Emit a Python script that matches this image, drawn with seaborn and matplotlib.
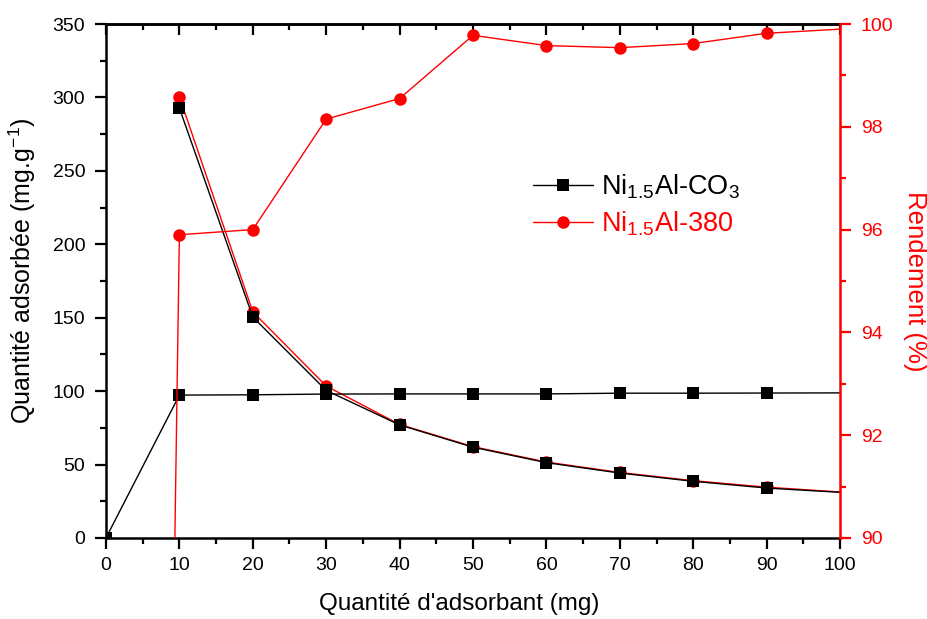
import numpy as np
import pandas as pd
import seaborn as sns
import matplotlib
matplotlib.use("Agg")
import matplotlib.pyplot as plt
from matplotlib.ticker import MultipleLocator
from matplotlib.lines import Line2D

# ---- data ----
x_all = [0, 10, 20, 30, 40, 50, 60, 70, 80, 90, 100]
x_q = [10, 20, 30, 40, 50, 60, 70, 80, 90, 100]
yield_co3 = [0, 97.3, 97.5, 98.0, 98.1, 98.1, 98.1, 98.6, 98.6, 98.7, 98.8]
q_co3 = [292.8, 150.5, 100.5, 77.0, 61.8, 51.3, 44.2, 38.6, 34.0, 31.1]
q_380 = [300.5, 154.0, 103.5, 77.3, 62.2, 51.7, 44.6, 39.0, 34.6, 31.3]
yield_380 = [0, 95.9, 96.0, 98.15, 98.55, 99.78, 99.58, 99.54, 99.62, 99.82, 99.9]
labels = ["Ni$_{1.5}$Al-CO$_3$", "Ni$_{1.5}$Al-380"]

sns.set_style("ticks")
plt.rcParams["font.family"] = ["Liberation Sans", "DejaVu Sans"]
plt.rcParams["mathtext.fontset"] = "custom"
plt.rcParams["mathtext.rm"] = "Liberation Sans"
plt.rcParams["mathtext.it"] = "Liberation Sans"
for k in ["text.color", "axes.labelcolor", "xtick.color", "ytick.color", "axes.edgecolor"]:
    plt.rcParams[k] = "black"

fig = plt.figure(figsize=(9.28, 6.19), dpi=100)
ax = fig.add_axes([0.1142, 0.1309, 0.7910, 0.8303])

RED = "#FF0000"
lw = 1.0

# red adsorbed quantity (left axis), drawn beneath black
sns.lineplot(x=x_q, y=q_380, ax=ax, color=RED, lw=lw, marker="o", markersize=9,
             markeredgewidth=0, markevery=list(range(9)), zorder=2)
# black series (left axis)
sns.lineplot(x=x_q, y=q_co3, ax=ax, color="black", lw=lw, marker="s", markersize=8,
             markeredgewidth=0, markevery=list(range(9)), zorder=3)
sns.lineplot(x=x_all, y=yield_co3, ax=ax, color="black", lw=lw, marker="s", markersize=8,
             markeredgewidth=0, markevery=list(range(10)), zorder=3)

ax.set_xlim(0, 100)
ax.set_ylim(0, 350)
ax.xaxis.set_major_locator(MultipleLocator(10))
ax.xaxis.set_minor_locator(MultipleLocator(5))
ax.yaxis.set_major_locator(MultipleLocator(50))
ax.yaxis.set_minor_locator(MultipleLocator(25))
ax.tick_params(axis="both", which="major", direction="out", length=8, width=1.6,
               labelsize=14, color="black", pad=7)
ax.tick_params(axis="x", which="major", pad=6)
ax.tick_params(axis="both", which="minor", direction="out", length=4, width=1.6)
ax.set_xlabel("Quantité d'adsorbant (mg)", fontsize=17.5)
ax.xaxis.set_label_coords(0.481, -0.108)
ax.set_ylabel("Quantité adsorbée (mg.g$^{-1}$)", fontsize=18)
ax.yaxis.set_label_coords(-0.093, 0.519)
for s in ["left", "bottom", "top"]:
    ax.spines[s].set_visible(True)
    ax.spines[s].set_linewidth(1.8)
    ax.spines[s].set_color("black")

ax2 = ax.twinx()
sns.lineplot(x=x_all, y=yield_380, ax=ax2, color=RED, lw=lw, marker="o", markersize=9,
             markeredgewidth=0, markevery=list(range(1, 10)), zorder=2)
ax2.set_ylim(90, 100)
ax2.yaxis.set_major_locator(MultipleLocator(2))
ax2.yaxis.set_minor_locator(MultipleLocator(1))
ax2.tick_params(axis="y", which="major", direction="out", length=8, width=1.6,
                labelsize=14, colors=RED, pad=7)
ax2.tick_params(axis="y", which="minor", direction="out", length=4, width=1.6, colors=RED)
ax2.set_ylabel("Rendement (%)", fontsize=18.5, color=RED, rotation=270, labelpad=24)
for s in ["left", "bottom", "top"]:
    ax2.spines[s].set_visible(False)
ax2.spines["right"].set_visible(True)
ax2.spines["right"].set_color(RED)
ax2.spines["right"].set_linewidth(1.8)
ax.spines["right"].set_visible(False)

# top inward ticks on primary axes
secx = ax.secondary_xaxis("top")
secx.xaxis.set_major_locator(MultipleLocator(10))
secx.xaxis.set_minor_locator(MultipleLocator(5))
secx.tick_params(which="major", direction="in", length=8, width=1.6, labeltop=False)
secx.tick_params(which="minor", direction="in", length=4, width=1.6)
secx.spines["top"].set_linewidth(1.8)

handles = [
    Line2D([], [], color="black", lw=lw, marker="s", markersize=8, markeredgewidth=0),
    Line2D([], [], color=RED, lw=lw, marker="o", markersize=9, markeredgewidth=0),
]
leg = ax2.legend(handles, labels, loc="center left", bbox_to_anchor=(0.582, 0.647),
                 frameon=False, fontsize=19.5, handlelength=2.2, handletextpad=0.3,
                 labelspacing=0.3, borderaxespad=0, borderpad=0)
leg.get_texts()[1].set_color(RED)

fig.savefig("out.png", dpi=100)
